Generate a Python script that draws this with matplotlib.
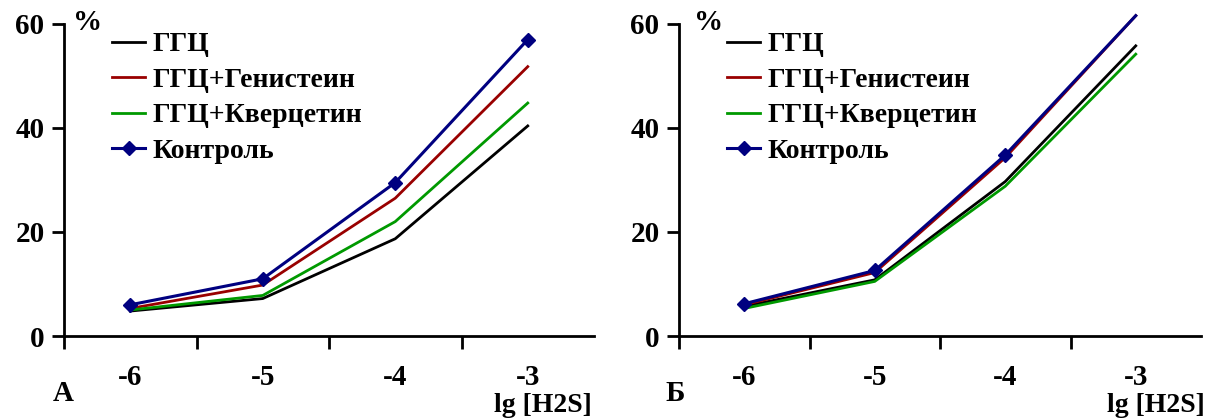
import matplotlib
matplotlib.use("Agg")
import matplotlib.pyplot as plt
import numpy as np

categories = ["-6", "-5", "-4", "-3"]
series_names = ["ГГЦ", "ГГЦ+Генистеин", "ГГЦ+Кверцетин", "Контроль"]
colors = ["#000000", "#990000", "#009900", "#000080"]

# Panel A
a_ggc = [4.8, 7.2, 18.7, 40.4]
a_gen = [5.3, 9.8, 26.5, 51.8]
a_que = [5.0, 7.8, 22.0, 44.8]
a_ctl = [6.0, 11.0, 29.5, 57.0]

# Panel Б
b_ggc = [5.7, 10.8, 29.7, 55.8]
b_gen = [6.0, 12.2, 34.3, 61.6]
b_que = [5.3, 10.5, 28.8, 54.2]
b_ctl = [6.2, 12.6, 34.8, 61.6]

yticks = [0, 20, 40, 60]
panel_labels = ["А", "Б"]
xlabel = "lg [H2S]"

plt.rcParams['font.family'] = ['Liberation Serif', 'DejaVu Serif']
plt.rcParams['font.weight'] = 'bold'

fig = plt.figure(figsize=(12.07, 4.19), dpi=100)
W, H = 1207, 419

def fx(px):
    return px / W

def fy(py):
    return 1 - py / H

axA = fig.add_axes([fx(64), fy(336), fx(594 - 64), fy(24) - fy(336)])
axB = fig.add_axes([fx(679), fy(336), fx(1201 - 679), fy(24) - fy(336)])

panels = [
    (axA, [a_ggc, a_gen, a_que, a_ctl], 112, 88, 63, 592),
    (axB, [b_ggc, b_gen, b_que, b_ctl], 727, 709, 675, 1205),
]

TS = 21
YMAX = 60
x = np.arange(len(categories))
for idx, (ax, data, leg_x, pct_x, lab_x, xl_x) in enumerate(panels):
    handles = []
    for name, vals, c in zip(series_names, data, colors):
        if name == "Контроль":
            mk = [i for i, v in enumerate(vals) if v <= YMAX]
            h, = ax.plot(x, vals, color=c, lw=2.2, marker='D', markersize=7,
                         markevery=mk, clip_on=False, zorder=5, label=name)
        else:
            h, = ax.plot(x, vals, color=c, lw=2.0, clip_on=False, label=name)
        handles.append(h)
    ax.set_xlim(-0.5, 3.5)
    ax.set_ylim(0, YMAX)
    ax.set_yticks(yticks)
    ax.set_yticklabels([str(v) for v in yticks], fontsize=TS, fontweight='bold')
    ax.set_xticks(x)
    ax.set_xticklabels(categories, fontsize=TS, fontweight='bold')
    ax.set_xticks([-0.5, 0.5, 1.5, 2.5], minor=True)
    ax.tick_params(axis='x', which='major', length=0, pad=20)
    ax.tick_params(axis='x', which='minor', length=9, width=2, direction='out')
    ax.tick_params(axis='y', which='major', length=9, width=2, direction='out', pad=5)
    for s in ['top', 'right']:
        ax.spines[s].set_visible(False)
    for s in ['left', 'bottom']:
        ax.spines[s].set_linewidth(2)
    leg = ax.legend(handles=handles, loc='upper left',
                    bbox_to_anchor=(fx(leg_x), fy(32)),
                    bbox_transform=fig.transFigure, frameon=False,
                    prop={'family': 'Liberation Serif', 'weight': 'bold', 'size': 20},
                    handlelength=1.2, handletextpad=0.25, labelspacing=0.36,
                    borderaxespad=0, borderpad=0)
    fig.text(fx(pct_x), fy(22), "%", fontsize=TS, fontweight='bold',
             ha='center', va='center')
    fig.text(fx(lab_x), fy(393), panel_labels[idx], fontsize=21,
             fontweight='bold', ha='center', va='center')
    fig.text(fx(xl_x), fy(418), xlabel, fontsize=20, fontweight='bold',
             ha='right', va='bottom')

fig.savefig("out.png", dpi=100)
